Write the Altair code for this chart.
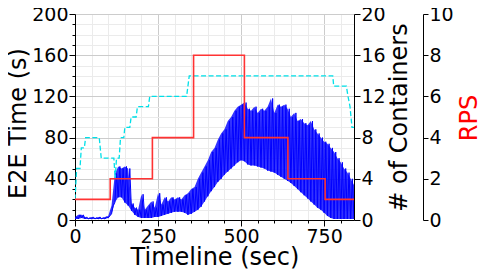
import altair as alt
import pandas as pd

# ---- data ----
# E2E time envelope (s), read every 10 s: low and high of the oscillating trace
env_t = list(range(0, 850, 10))
blue_lo = [1, 1, 2, 1, 1, 1, 1, 1, 1, 1,
           2, 6, 17, 22, 22, 17, 14, 9, 5, 3,
           2, 2, 2, 2, 3, 3, 4, 5, 6, 7,
           8, 8, 8, 7, 5, 6, 8, 10, 13, 18,
           23, 28, 32, 37, 40, 44, 47, 50, 53, 56,
           58, 57, 54, 53, 53, 52, 51, 50, 48, 47,
           46, 44, 42, 40, 38, 36, 33, 30, 27, 24,
           21, 18, 15, 12, 10, 7, 4, 2, 1, 1,
           1, 1, 1, 1, 1]
blue_hi = [3, 5, 5, 3, 2, 3, 2, 3, 2, 3,
           4, 14, 45, 52, 50, 52, 50, 16, 12, 10,
           25, 10, 14, 18, 12, 26, 15, 22, 18, 22,
           20, 22, 20, 24, 26, 30, 32, 40, 46, 52,
           58, 66, 70, 78, 84, 88, 96, 100, 106, 110,
           112, 114, 108, 106, 110, 104, 108, 106, 110, 118,
           104, 112, 110, 112, 108, 100, 104, 96, 98, 94,
           92, 96, 88, 84, 80, 76, 74, 70, 66, 60,
           56, 50, 46, 40, 34]

# number of containers
cont_t = [0, 5, 15, 19, 28, 32, 73, 79, 117, 121, 125, 133, 137, 147, 150, 165,
          169, 184, 188, 221, 225, 336, 340, 344, 776, 779, 817, 822, 828, 834, 840]
cont_n = [2, 5, 5, 7, 7, 8, 8, 6, 6, 4, 6, 6, 8, 8, 9, 9,
          10, 10, 11, 11, 12, 12, 13, 14, 14, 13, 13, 12, 11, 9, 9]

# requests per second (step changes)
rps_t = [0, 106, 233, 357, 510, 641, 753, 840]
rps_v = [1, 2, 4, 8, 4, 2, 1, 1]

x_major = [0, 250, 500, 750]
y_major = [0, 40, 80, 120, 160, 200]
cont_ticks = [0, 4, 8, 12, 16, 20]
rps_ticks = [0, 2, 4, 6, 8, 10]

# ---- tables ----
zz_t, zz_v = [], []
for i, t in enumerate(env_t):
    zz_t.append(t)
    zz_v.append(blue_lo[i])
    if t < 840:
        zz_t.append(t + 5)
        zz_v.append(blue_hi[i])
blue_df = pd.DataFrame({"t": zz_t, "v": zz_v})
band_df = pd.DataFrame({"t": env_t, "lo": blue_lo, "hi": blue_hi})
cont_df = pd.DataFrame({"t": cont_t, "n": cont_n})
rps_df = pd.DataFrame({"t": rps_t, "r": rps_v})

FONT = "DejaVu Sans"
LBL = 19
TTL = 24

xs = alt.Scale(domain=[0, 840], nice=False, zero=False)
ys = alt.Scale(domain=[0, 200], nice=False)


def is_major(vals):
    return "indexof([" + ",".join(str(v) for v in vals) + "], datum.value) >= 0"


common = dict(tickColor="black", domainColor="black", labelColor="black",
              labelFontSize=LBL, titleFontSize=TTL, labelFont=FONT, titleFont=FONT,
              titleFontWeight="normal", labelFlush=False, labelOverlap=False)

x_axis = alt.Axis(
    title="Timeline (sec)", values=list(range(0, 801, 50)),
    labelExpr=is_major(x_major) + " ? datum.label : ''", grid=True,
    gridColor={"condition": {"test": is_major(x_major), "value": "#cccccc"}, "value": "#ebebeb"},
    tickSize={"condition": {"test": is_major(x_major), "value": 6}, "value": 3},
    labelPadding=1, titleColor="black", titleY=44, titleBaseline="alphabetic",
    **common,
)

y_axis = alt.Axis(
    title="E2E Time (s)", values=list(range(0, 201, 10)),
    labelExpr=is_major(y_major) + " ? datum.label : ''", grid=True,
    gridColor={"condition": {"test": is_major(y_major), "value": "#cccccc"}, "value": "#ebebeb"},
    tickSize={"condition": {"test": is_major(y_major), "value": 6}, "value": 3},
    labelPadding=1, titleColor="black", titleX=-50, titleY=109, titleAngle=270,
    titleBaseline="alphabetic",
    **common,
)

X = alt.X("t:Q", scale=xs, axis=x_axis)

band = alt.Chart(band_df).mark_area(color="#0000ff", opacity=0.8, clip=True).encode(
    x=X,
    y=alt.Y("lo:Q", scale=ys, axis=y_axis),
    y2="hi:Q",
)

blue = alt.Chart(blue_df).mark_line(color="#0000ff", strokeWidth=1, clip=True).encode(
    x=X,
    y=alt.Y("v:Q", scale=ys, axis=y_axis),
)

left = alt.layer(band, blue)

cont = alt.Chart(cont_df).mark_line(color="#00e0e8", strokeWidth=1.3, strokeDash=[5, 2.5], clip=True).encode(
    x=X,
    y=alt.Y("n:Q", scale=alt.Scale(domain=[0, 20], nice=False),
            axis=alt.Axis(title="# of Containers", orient="right", values=cont_ticks, grid=False,
                          tickSize=6, labelPadding=1, titleColor="black",
                          titleX=52, titleY=103, titleAngle=270, titleBaseline="alphabetic",
                          **common)),
)

rps = alt.Chart(rps_df).mark_line(color="#ff3333", strokeWidth=1.6, interpolate="step-after", clip=True).encode(
    x=X,
    y=alt.Y("r:Q", scale=alt.Scale(domain=[0, 10], nice=False),
            axis=alt.Axis(title="RPS", orient="right", offset=69, values=rps_ticks, grid=False,
                          tickSize=5, labelPadding=1, titleColor="#ff0000",
                          titleX=53, titleY=103.5, titleAngle=270, titleBaseline="alphabetic",
                          **common)),
)

chart = alt.layer(left, cont, rps).resolve_scale(y="independent").properties(
    width=279, height=206,
    autosize=alt.AutoSizeParams(type="none"),
    padding={"left": 67, "top": 6, "right": 124, "bottom": 49},
).configure_view(stroke="black", strokeWidth=1).configure_axis(
    labelOverlap=False
).configure(background="white")

chart.save("out.html", embed_options={"renderer": "svg", "actions": False})
